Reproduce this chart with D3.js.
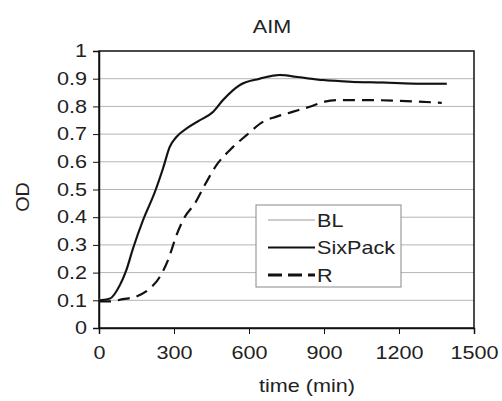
<!DOCTYPE html>
<html>
<head>
<meta charset="utf-8">
<script src="https://cdn.jsdelivr.net/npm/d3@7"></script>
<style>
  body { margin: 0; background: #fff; }
  text { font-family: "Liberation Sans", Arial, sans-serif; fill: #222; }
</style>
</head>
<body>
<svg id="chart" width="502" height="401"></svg>
<script>
// Данные
const sixTime  = [0, 43, 83, 109, 136, 176, 223, 256, 283, 310, 350, 403, 456, 496, 563, 643, 723, 803, 897, 1004, 1137, 1270, 1391];
const sixOD    = [0.100, 0.106, 0.154, 0.208, 0.287, 0.389, 0.490, 0.576, 0.654, 0.690, 0.720, 0.750, 0.780, 0.823, 0.877, 0.900, 0.913, 0.905, 0.895, 0.889, 0.886, 0.882, 0.882];
const blTime   = sixTime;
const blOD     = sixOD;
const rTime    = [0, 43, 96, 150, 203, 243, 276, 310, 343, 383, 423, 470, 523, 590, 657, 710, 777, 843, 903, 963, 1070, 1204, 1371];
const rOD      = [0.096, 0.096, 0.104, 0.114, 0.142, 0.184, 0.245, 0.335, 0.401, 0.449, 0.516, 0.588, 0.642, 0.696, 0.745, 0.763, 0.781, 0.799, 0.817, 0.823, 0.823, 0.820, 0.813];
const xTicks   = [0, 300, 600, 900, 1200, 1500];
const yTicks   = [0, 0.1, 0.2, 0.3, 0.4, 0.5, 0.6, 0.7, 0.8, 0.9, 1];
const seriesNames = ["BL", "SixPack", "R"];

const svg = d3.select("#chart");

// Область графика
const plot = {left: 99, right: 474, top: 51, bottom: 328};
// Текст в оригинале немного растянут по горизонтали
const sx = 1.2;
const fontSize = 18;

const x = d3.scaleLinear().domain([0, 1500]).range([plot.left, plot.right]);
const y = d3.scaleLinear().domain([0, 1]).range([plot.bottom, plot.top]);

// Сетка
svg.append("g")
   .selectAll("line")
   .data(yTicks.slice(1, -1))
   .enter()
   .append("line")
   .attr("x1", plot.left).attr("x2", plot.right)
   .attr("y1", d => y(d)).attr("y2", d => y(d))
   .attr("stroke", "#b4b4b4")
   .attr("stroke-width", 1);

// Рамка
svg.append("rect")
   .attr("x", plot.left).attr("y", plot.top)
   .attr("width", plot.right - plot.left).attr("height", plot.bottom - plot.top)
   .attr("fill", "none")
   .attr("stroke", "#111")
   .attr("stroke-width", 1.5);

// Оси
const fmt = d => d === 0 ? "0" : d === 1 ? "1" : d3.format(".1f")(d);

const yAxis = svg.append("g")
   .attr("transform", "translate(" + plot.left + ",0)")
   .call(d3.axisLeft(y).tickValues(yTicks).tickFormat(fmt).tickSize(6).tickPadding(4));

const xAxis = svg.append("g")
   .attr("transform", "translate(0," + plot.bottom + ")")
   .call(d3.axisBottom(x).tickValues(xTicks).tickFormat(d3.format("d")).tickSize(6).tickPadding(12));

[yAxis, xAxis].forEach(a => {
    a.select(".domain").attr("stroke", "#111").attr("stroke-width", 1.5);
    a.selectAll(".tick line").attr("stroke", "#111");
    a.selectAll("text").attr("font-size", fontSize).attr("fill", "#222")
     .attr("font-family", "Liberation Sans, Arial, sans-serif");
});

// растягиваем подписи делений
yAxis.selectAll(".tick text").attr("transform", "scale(" + sx + ",1)");
xAxis.selectAll(".tick text").attr("transform", "scale(" + sx + ",1)");

// Линии
const line = (tt) => d3.line()
    .x((d, i) => x(tt[i]))
    .y(d => y(d))
    .curve(d3.curveMonotoneX);

svg.append("path")
   .datum(blOD)
   .attr("d", line(blTime))
   .attr("fill", "none")
   .attr("stroke", "#c8c8c8")
   .attr("stroke-width", 2.5);

svg.append("path")
   .datum(sixOD)
   .attr("d", line(sixTime))
   .attr("fill", "none")
   .attr("stroke", "#111")
   .attr("stroke-width", 2);

svg.append("path")
   .datum(rOD)
   .attr("d", line(rTime))
   .attr("fill", "none")
   .attr("stroke", "#111")
   .attr("stroke-width", 2.2)
   .attr("stroke-dasharray", "12,7");

// Подпись с растяжением
function label(px, py, str, anchor, rot) {
    return svg.append("text")
       .attr("transform", "translate(" + px + "," + py + ")" + (rot ? " rotate(-90) scale(1.1,1)" : " scale(" + sx + ",1)"))
       .attr("text-anchor", anchor)
       .attr("font-size", fontSize)
       .text(str);
}

// Легенда
const leg = svg.append("g").attr("transform", "translate(256,205)");
leg.append("rect")
   .attr("width", 145).attr("height", 82)
   .attr("fill", "#fff")
   .attr("stroke", "#888")
   .attr("stroke-width", 1);

const styles = [
    {stroke: "#bbbbbb", width: 1.5, dash: null},
    {stroke: "#111", width: 2, dash: null},
    {stroke: "#111", width: 3, dash: "14,6"}
];

seriesNames.forEach((name, i) => {
    const cy = 15 + i * 27.5;
    leg.append("line")
       .attr("x1", 12).attr("x2", 59)
       .attr("y1", cy).attr("y2", cy)
       .attr("stroke", styles[i].stroke)
       .attr("stroke-width", styles[i].width)
       .attr("stroke-dasharray", styles[i].dash);
    label(256 + 61, 205 + cy + 6.5, name, "start");
});

// Подписи
label(272, 33, "AIM", "middle");
label(307, 392, "time (min)", "middle");
label(29, 197, "OD", "middle", true);
</script>
</body>
</html>
